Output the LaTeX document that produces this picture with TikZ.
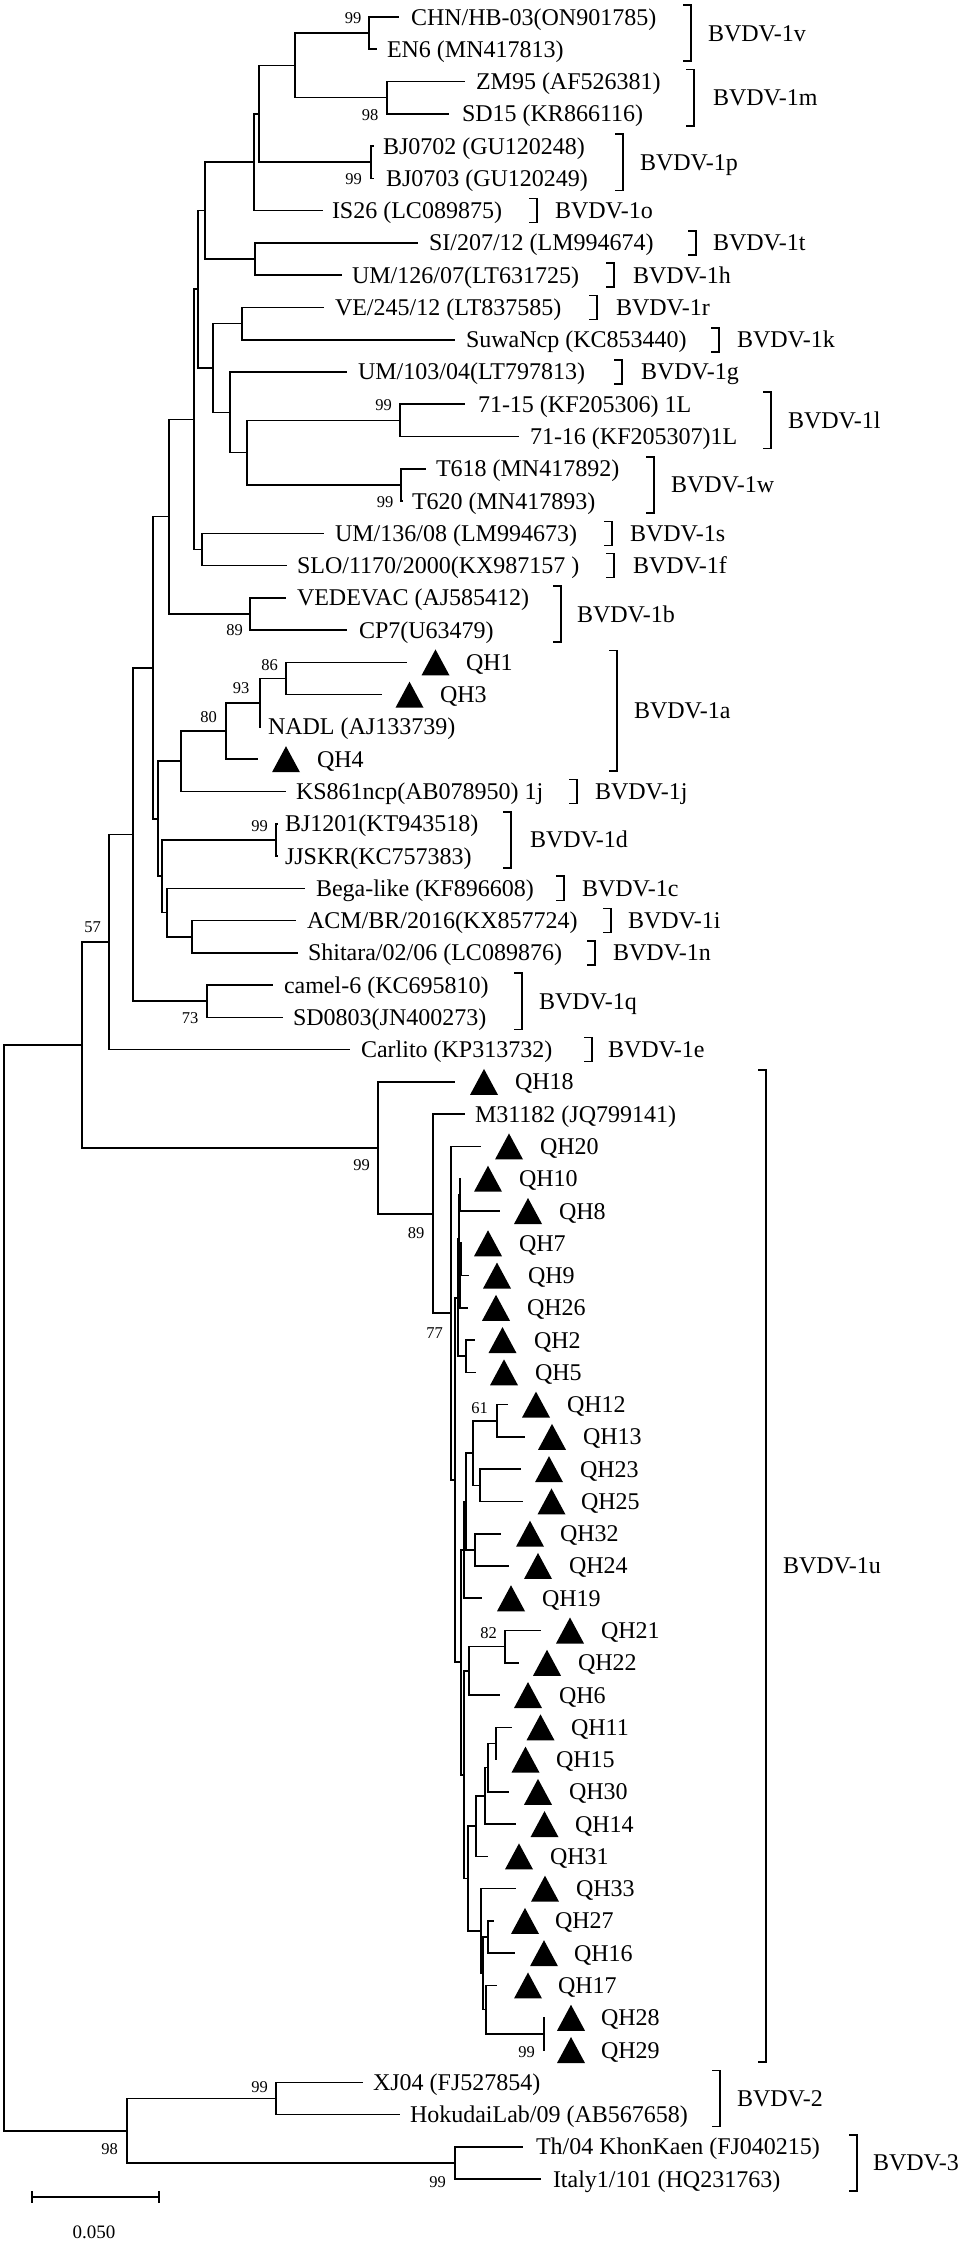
\documentclass[tikz,border=0pt]{standalone}
\usepackage{fontspec}
\setmainfont{Liberation Serif}
\newcommand\labfont{\fontsize{24}{28}\selectfont}
\newcommand\bsfont{\fontsize{16.5}{19}\selectfont}
\newcommand\sbfont{\fontsize{19}{22}\selectfont}
\tikzset{
  br/.style={line width=1.6pt},
  brk/.style={line width=1.6pt},
  lab/.style={anchor=base west, inner sep=0pt, outer sep=0pt, font=\labfont, yshift=-8pt},
  bs/.style={inner sep=0pt, font=\bsfont},
  qtri/.pic={\fill (-14pt,-13pt) -- (14pt,-13pt) -- (0pt,13pt) -- cycle;}
}
\newcommand\tipL[5]{\coordinate (t#1) at (#2,#3); \node[lab] (#1) at (#4,#3) {#5};}
\newcommand\tipQ[6]{\coordinate (t#1) at (#2,#3); \pic at (#4,#3) {qtri}; \node[lab] (#1) at (#5,#3) {#6};}
\newcommand\grp[6]{\draw[brk] (#3-8,#1-0.372) -- (#3,#1-0.372) -- (#3,#2+0.372) -- (#3-8,#2+0.372); \node[lab] (#6) at (#4,{(#1+#2)/2}) {#5};}
\newcommand\edges[2]{\foreach \ch in {#2} {\draw[br] (#1) |- (\ch);}}
\begin{document}
\begin{tikzpicture}[x=1pt,y=-1pt]
\useasboundingbox (0,0) rectangle (963,2244);
\fill[white] (0,0) rectangle (963,2244);
\begin{scope}[yshift=-17pt, y=-32.27pt]
% ---------- tips ----------
\tipL{CHN}{399}{0}{411}{CHN/HB-03(ON901785)}
\tipL{EN6}{377}{1}{387}{EN6 (MN417813)}
\tipL{ZM}{465}{2}{476}{ZM95 (AF526381)}
\tipL{SDf}{449}{3}{462}{SD15 (KR866116)}
\tipL{BJa}{374}{4}{383}{BJ0702 (GU120248)}
\tipL{BJb}{374}{5}{386}{BJ0703 (GU120249)}
\tipL{IS}{323}{6}{332}{IS26 (LC089875)}
\tipL{SI}{418}{7}{429}{SI/207/12 (LM994674)}
\tipL{UMa}{342}{8}{352}{UM/126/07(LT631725)}
\tipL{VE}{324}{9}{335}{VE/245/12 (LT837585)}
\tipL{Suwa}{455}{10}{466}{SuwaNcp (KC853440)}
\tipL{UMb}{347}{11}{358}{UM/103/04(LT797813)}
\tipL{Sa}{465}{12}{478}{71-15 (KF205306) 1L}
\tipL{Sb}{519}{13}{530}{71-16 (KF205307)1L}
\tipL{Ta}{426}{14}{436}{T618 (MN417892)}
\tipL{Tb}{403}{15}{412}{T620 (MN417893)}
\tipL{UMc}{324}{16}{335}{UM/136/08 (LM994673)}
\tipL{SLO}{287}{17}{297}{SLO/1170/2000(KX987157 )}
\tipL{VED}{286}{18}{297}{VEDEVAC (AJ585412)}
\tipL{CP}{347}{19}{359}{CP7(U63479)}
\tipQ{QH1}{407}{20}{435.5}{466}{QH1}
\tipQ{QH3}{382}{21}{409.5}{440}{QH3}
\tipL{NADL}{261}{22}{268}{NADL (AJ133739)}
\tipQ{QH4}{258}{23}{286}{317}{QH4}
\tipL{KS}{286}{24}{296}{KS861ncp(AB078950) 1j}
\tipL{BJc}{278}{25}{285}{BJ1201(KT943518)}
\tipL{JJ}{278}{26}{285}{JJSKR(KC757383)}
\tipL{Bega}{305}{27}{316}{Bega-like (KF896608)}
\tipL{ACM}{296}{28}{307}{ACM/BR/2016(KX857724)}
\tipL{Shi}{298}{29}{308}{Shitara/02/06 (LC089876)}
\tipL{camel}{273}{30}{284}{camel-6 (KC695810)}
\tipL{SDe}{283}{31}{293}{SD0803(JN400273)}
\tipL{Carl}{350}{32}{361}{Carlito (KP313732)}
\tipQ{QH18}{455}{33}{484}{515}{QH18}
\tipL{M311}{465}{34}{475}{M31182 (JQ799141)}
\tipQ{QH20}{481}{35}{509}{540}{QH20}
\tipQ{QH10}{461}{36}{488}{519}{QH10}
\tipQ{QH8}{500}{37}{528}{559}{QH8}
\tipQ{QH7}{462}{38}{488}{519}{QH7}
\tipQ{QH9}{469}{39}{497}{528}{QH9}
\tipQ{QH26}{468}{40}{496}{527}{QH26}
\tipQ{QH2}{475}{41}{502.5}{534}{QH2}
\tipQ{QH5}{476}{42}{504}{535}{QH5}
\tipQ{QH12}{508}{43}{536}{567}{QH12}
\tipQ{QH13}{525}{44}{552}{583}{QH13}
\tipQ{QH23}{521}{45}{549}{580}{QH23}
\tipQ{QH25}{523}{46}{551.5}{581}{QH25}
\tipQ{QH32}{501}{47}{530}{560}{QH32}
\tipQ{QH24}{509}{48}{538}{569}{QH24}
\tipQ{QH19}{482}{49}{511}{542}{QH19}
\tipQ{QH21}{541}{50}{570}{601}{QH21}
\tipQ{QH22}{519}{51}{547}{578}{QH22}
\tipQ{QH6}{500}{52}{528}{559}{QH6}
\tipQ{QH11}{512}{53}{540.5}{571}{QH11}
\tipQ{QH15}{497}{54}{525.5}{556}{QH15}
\tipQ{QH30}{509}{55}{538}{569}{QH30}
\tipQ{QH14}{516}{56}{544.5}{575}{QH14}
\tipQ{QH31}{488}{57}{519}{550}{QH31}
\tipQ{QH33}{516}{58}{545}{576}{QH33}
\tipQ{QH27}{494}{59}{525}{555}{QH27}
\tipQ{QH16}{515}{60}{544}{574}{QH16}
\tipQ{QH17}{497}{61}{528}{558}{QH17}
\tipQ{QH28}{545}{62}{571}{601}{QH28}
\tipQ{QH29}{545}{63}{571}{601}{QH29}
\tipL{XJ}{363}{64}{373}{XJ04 (FJ527854)}
\tipL{Hok}{400}{65}{410}{HokudaiLab/09 (AB567658)}
\tipL{Th}{523}{66}{536}{Th/04 KhonKaen (FJ040215)}
\tipL{It}{541}{67}{553}{Italy1/101 (HQ231763)}
% ---------- internal nodes ----------
\coordinate (v) at (369,0.5);
\coordinate (m) at (387,2.5);
\coordinate (A) at (295,1.5);
\coordinate (p) at (371,4.5);
\coordinate (B) at (259,3);
\coordinate (C) at (254,4.5);
\coordinate (E) at (255,7.5);
\coordinate (D) at (205,6);
\coordinate (I) at (242,9.5);
\coordinate (l) at (400,12.5);
\coordinate (w) at (401,14.5);
\coordinate (K) at (247,13.5);
\coordinate (J) at (230,12.25);
\coordinate (G) at (213,10.875);
\coordinate (F) at (198,8.4375);
\coordinate (L) at (202,16.5);
\coordinate (H) at (194,12.46875);
\coordinate (b) at (250,18.5);
\coordinate (M) at (169,15.484375);
\coordinate (V) at (286,20.5);
\coordinate (U) at (260,21.25);
\coordinate (T) at (226,22.125);
\coordinate (S) at (181,23.0625);
\coordinate (d) at (276,25.5);
\coordinate (an) at (192,28.5);
\coordinate (Z) at (167,27.75);
\coordinate (Y) at (162,26.625);
\coordinate (W) at (158,24.84375);
\coordinate (N) at (153,20.1640625);
\coordinate (cm) at (207,30.5);
\coordinate (X) at (133,25.33203);
\coordinate (P) at (109,28.66602);
\coordinate (q79) at (461,38.5);
\coordinate (g1d) at (460,39.25);
\coordinate (g1b) at (460,36.5);
\coordinate (g1a) at (459,37.875);
\coordinate (q25) at (466,41.5);
\coordinate (g1) at (458,39.6875);
\coordinate (q1213) at (497,43.5);
\coordinate (q2325) at (480,45.5);
\coordinate (gUa1) at (473,44.5);
\coordinate (q3224) at (475,47.5);
\coordinate (gUa) at (466,46);
\coordinate (gU) at (464,47.5);
\coordinate (q2122) at (505,50.5);
\coordinate (gL1) at (469,51.25);
\coordinate (q1115) at (496,53.5);
\coordinate (gLaaa) at (488,54.25);
\coordinate (gLaa) at (485,55.125);
\coordinate (gLa) at (476,56.0625);
\coordinate (q2716) at (488,59.5);
\coordinate (q2829) at (544,62.5);
\coordinate (q17) at (486,61.75);
\coordinate (gLbb) at (483,60.625);
\coordinate (gLb) at (481,59.3125);
\coordinate (gL2) at (468,57.6875);
\coordinate (gL) at (464,54.46875);
\coordinate (g2) at (461,50.984375);
\coordinate (n1) at (455,45.3359375);
\coordinate (n77) at (451,40.16796875);
\coordinate (n89) at (433,37.08398);
\coordinate (n99) at (378,35.04199);
\coordinate (Q) at (82,31.85401);
\coordinate (n2) at (276,64.5);
\coordinate (n3) at (455,66.5);
\coordinate (n98) at (127,65.5);
\coordinate (root) at (4,48.677);
% ---------- branches ----------
\edges{v}{tCHN,tEN6}
\edges{m}{tZM,tSDf}
\edges{A}{v,m}
\edges{p}{tBJa,tBJb}
\edges{B}{A,p}
\edges{C}{B,tIS}
\edges{E}{tSI,tUMa}
\edges{D}{C,E}
\edges{I}{tVE,tSuwa}
\edges{l}{tSa,tSb}
\edges{w}{tTa,tTb}
\edges{K}{l,w}
\edges{J}{tUMb,K}
\edges{G}{I,J}
\edges{F}{D,G}
\edges{L}{tUMc,tSLO}
\edges{H}{F,L}
\edges{b}{tVED,tCP}
\edges{M}{H,b}
\edges{V}{tQH1,tQH3}
\edges{U}{V,tNADL}
\edges{T}{U,tQH4}
\edges{S}{T,tKS}
\edges{d}{tBJc,tJJ}
\edges{an}{tACM,tShi}
\edges{Z}{tBega,an}
\edges{Y}{d,Z}
\edges{W}{S,Y}
\edges{N}{M,W}
\edges{cm}{tcamel,tSDe}
\edges{X}{N,cm}
\edges{P}{X,tCarl}
\edges{n99}{tQH18,n89}
\edges{n89}{tM311,n77}
\edges{n77}{tQH20,n1}
\edges{n1}{g1,g2}
\edges{g1}{g1a,q25}
\edges{g1a}{g1b,g1d}
\edges{g1b}{tQH10,tQH8}
\edges{g1d}{q79,tQH26}
\edges{q79}{tQH7,tQH9}
\edges{q25}{tQH2,tQH5}
\edges{g2}{gU,gL}
\edges{gU}{gUa,tQH19}
\edges{gUa}{gUa1,q3224}
\edges{gUa1}{q1213,q2325}
\edges{q1213}{tQH12,tQH13}
\edges{q2325}{tQH23,tQH25}
\edges{q3224}{tQH32,tQH24}
\edges{gL}{gL1,gL2}
\edges{gL1}{q2122,tQH6}
\edges{q2122}{tQH21,tQH22}
\edges{gL2}{gLa,gLb}
\edges{gLa}{gLaa,tQH31}
\edges{gLaa}{gLaaa,tQH14}
\edges{gLaaa}{q1115,tQH30}
\edges{q1115}{tQH11,tQH15}
\edges{gLb}{tQH33,gLbb}
\edges{gLbb}{q2716,q17}
\edges{q2716}{tQH27,tQH16}
\edges{q17}{tQH17,q2829}
\edges{q2829}{tQH28,tQH29}
\edges{Q}{P,n99}
\edges{n2}{tXJ,tHok}
\edges{n3}{tTh,tIt}
\edges{n98}{n2,n3}
\edges{root}{Q,n98}
% ---------- group brackets ----------
\grp{0}{1}{691}{708}{BVDV-1v}{gv}
\grp{2}{3}{694}{713}{BVDV-1m}{gm}
\grp{4}{5}{623}{640}{BVDV-1p}{gp}
\grp{6}{6}{537}{555}{BVDV-1o}{go}
\grp{7}{7}{696}{713}{BVDV-1t}{gt}
\grp{8}{8}{614}{633}{BVDV-1h}{gh}
\grp{9}{9}{597}{616}{BVDV-1r}{gr}
\grp{10}{10}{719}{737}{BVDV-1k}{gk}
\grp{11}{11}{622}{641}{BVDV-1g}{gg}
\grp{12}{13}{771}{788}{BVDV-1l}{gl}
\grp{14}{15}{654}{671}{BVDV-1w}{gw}
\grp{16}{16}{612}{630}{BVDV-1s}{gs}
\grp{17}{17}{614}{633}{BVDV-1f}{gf}
\grp{18}{19}{561}{577}{BVDV-1b}{gb}
\grp{20}{23}{617}{634}{BVDV-1a}{ga}
\grp{24}{24}{577}{595}{BVDV-1j}{gj}
\grp{25}{26}{511}{530}{BVDV-1d}{gd}
\grp{27}{27}{564}{582}{BVDV-1c}{gc}
\grp{28}{28}{611}{628}{BVDV-1i}{gi}
\grp{29}{29}{595}{613}{BVDV-1n}{gn}
\grp{30}{31}{522}{539}{BVDV-1q}{gq}
\grp{32}{32}{592}{608}{BVDV-1e}{ge}
\grp{33}{63}{766}{783}{BVDV-1u}{gu}
\grp{64}{65}{720}{737}{BVDV-2}{gtwo}
\grp{66}{67}{857}{873}{BVDV-3}{gthree}
\end{scope}
% ---------- bootstrap values ----------
\node[bs] (b1) at (353,18) {99};
\node[bs] (b2) at (370,115) {98};
\node[bs] (b3) at (353.5,179) {99};
\node[bs] (b4) at (383.5,405) {99};
\node[bs] (b5) at (385,502) {99};
\node[bs] (b6) at (234.5,630) {89};
\node[bs] (b7) at (269.5,665) {86};
\node[bs] (b8) at (241,688) {93};
\node[bs] (b9) at (208.5,717) {80};
\node[bs] (b10) at (259.5,826) {99};
\node[bs] (b11) at (92.5,927) {57};
\node[bs] (b12) at (190,1018) {73};
\node[bs] (b13) at (361.5,1165) {99};
\node[bs] (b14) at (416,1233) {89};
\node[bs] (b15) at (434.5,1333) {77};
\node[bs] (b16) at (479.5,1408) {61};
\node[bs] (b17) at (488.5,1633) {82};
\node[bs] (b18) at (526.5,2052) {99};
\node[bs] (b19) at (259.5,2087) {99};
\node[bs] (b20) at (109.5,2149) {98};
\node[bs] (b21) at (437.5,2182) {99};
% ---------- scale bar ----------
\coordinate (sbL) at (32,2197);
\coordinate (sbR) at (159,2197);
\draw[br] (sbL) -- (sbR);
\draw[br] ([yshift=6pt]sbL) -- ([yshift=-6pt]sbL);
\draw[br] ([yshift=6pt]sbR) -- ([yshift=-6pt]sbR);
\node[font=\sbfont, inner sep=0pt] (sbt) at (94,2232) {0.050};
\end{tikzpicture}
\end{document}
